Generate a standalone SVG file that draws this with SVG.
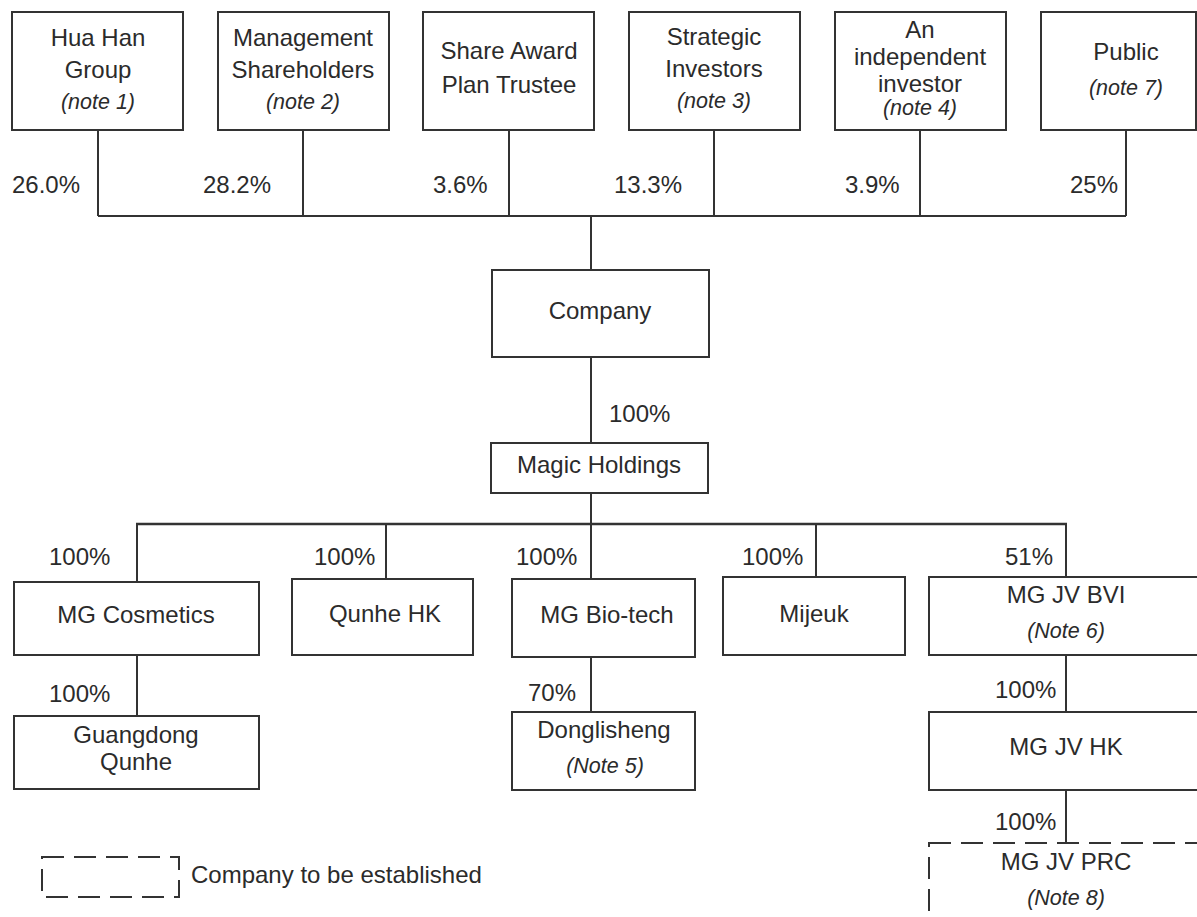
<svg xmlns="http://www.w3.org/2000/svg" width="1197" height="917" viewBox="0 0 1197 917">
<style>
.box{fill:#fff;stroke:#333;stroke-width:2}
.dash{fill:#fff;stroke:#333;stroke-width:2;stroke-dasharray:22 10}
.ln{stroke:#333;stroke-width:2;fill:none}
.t{font-family:"Liberation Sans",Arial,sans-serif;font-size:24px;fill:#2b2b2b;text-anchor:middle}
.n{font-family:"Liberation Sans",Arial,sans-serif;font-size:21.5px;font-style:italic;fill:#2b2b2b;text-anchor:middle}
.p{font-family:"Liberation Sans",Arial,sans-serif;font-size:24px;fill:#2b2b2b}
</style>
<rect width="1197" height="917" fill="#fff"/>
<g id="connectors">
<path class="ln" d="M98 130V216M303 130V216M509 130V216M714 130V216M920 130V216M1126 130V216M98 216H1126M591 216V270"/>
<path class="ln" d="M591 357V443M591 493V524"/>
<path class="ln" style="stroke-width:2.6" d="M136 524H1067"/>
<path class="ln" d="M137 524V582M386 524V579M591 524V579M816 524V577M1066 524V577"/>
<path class="ln" d="M137 655V716M591 657V712M1066 655V712M1066 790V843"/>
<text class="p" x="12" y="193">26.0%</text>
<text class="p" x="203" y="193">28.2%</text>
<text class="p" x="433" y="193">3.6%</text>
<text class="p" x="614" y="193">13.3%</text>
<text class="p" x="845" y="193">3.9%</text>
<text class="p" x="1070" y="193">25%</text>
<text class="p" x="609" y="422">100%</text>
<text class="p" x="49" y="565">100%</text>
<text class="p" x="314" y="565">100%</text>
<text class="p" x="516" y="565">100%</text>
<text class="p" x="742" y="565">100%</text>
<text class="p" x="1005" y="565">51%</text>
<text class="p" x="49" y="702">100%</text>
<text class="p" x="528" y="701">70%</text>
<text class="p" x="995" y="698">100%</text>
<text class="p" x="995" y="830">100%</text>
</g>
<g id="hua-han">
<rect class="box" x="12" y="12" width="171" height="118"/>
<text class="t" x="98" y="46">Hua Han</text>
<text class="t" x="98" y="78">Group</text>
<text class="n" x="98" y="109">(note 1)</text>
</g>
<g id="management">
<rect class="box" x="218" y="12" width="171" height="118"/>
<text class="t" x="303" y="46">Management</text>
<text class="t" x="303" y="78">Shareholders</text>
<text class="n" x="303" y="109">(note 2)</text>
</g>
<g id="share-award">
<rect class="box" x="423" y="12" width="171" height="118"/>
<text class="t" x="509" y="59">Share Award</text>
<text class="t" x="509" y="93">Plan Trustee</text>
</g>
<g id="strategic">
<rect class="box" x="629" y="12" width="171" height="118"/>
<text class="t" x="714" y="45">Strategic</text>
<text class="t" x="714" y="77">Investors</text>
<text class="n" x="714" y="108">(note 3)</text>
</g>
<g id="independent">
<rect class="box" x="835" y="12" width="171" height="118"/>
<text class="t" x="920" y="38">An</text>
<text class="t" x="920" y="65">independent</text>
<text class="t" x="920" y="92">investor</text>
<text class="n" x="920" y="115">(note 4)</text>
</g>
<g id="public">
<rect class="box" x="1041" y="12" width="155" height="118"/>
<text class="t" x="1126" y="60">Public</text>
<text class="n" x="1126" y="95">(note 7)</text>
</g>
<g id="company">
<rect class="box" x="492" y="270" width="217" height="87"/>
<text class="t" x="600" y="319">Company</text>
</g>
<g id="magic-holdings">
<rect class="box" x="491" y="443" width="217" height="50"/>
<text class="t" x="599" y="473">Magic Holdings</text>
</g>
<g id="mg-cosmetics">
<rect class="box" x="14" y="582" width="245" height="73"/>
<text class="t" x="136" y="623">MG Cosmetics</text>
</g>
<g id="qunhe-hk">
<rect class="box" x="292" y="579" width="181" height="76"/>
<text class="t" x="385" y="622">Qunhe HK</text>
</g>
<g id="mg-bio-tech">
<rect class="box" x="512" y="579" width="183" height="78"/>
<text class="t" x="607" y="623">MG Bio-tech</text>
</g>
<g id="mijeuk">
<rect class="box" x="723" y="577" width="182" height="78"/>
<text class="t" x="814" y="622">Mijeuk</text>
</g>
<g id="mg-jv-bvi">
<rect class="box" x="929" y="577" width="280" height="78"/>
<text class="t" x="1066" y="603">MG JV BVI</text>
<text class="n" x="1066" y="638">(Note 6)</text>
</g>
<g id="guangdong-qunhe">
<rect class="box" x="14" y="716" width="245" height="73"/>
<text class="t" x="136" y="743">Guangdong</text>
<text class="t" x="136" y="770">Qunhe</text>
</g>
<g id="donglisheng">
<rect class="box" x="512" y="712" width="183" height="78"/>
<text class="t" x="604" y="738">Donglisheng</text>
<text class="n" x="605" y="773">(Note 5)</text>
</g>
<g id="mg-jv-hk">
<rect class="box" x="929" y="712" width="280" height="78"/>
<text class="t" x="1066" y="755">MG JV HK</text>
</g>
<g id="mg-jv-prc">
<rect class="dash" x="929" y="843" width="280" height="90"/>
<text class="t" x="1066" y="870">MG JV PRC</text>
<text class="n" x="1066" y="905">(Note 8)</text>
</g>
<g id="legend">
<rect class="dash" x="42" y="857" width="137" height="40" fill="none"/>
<text class="p" x="191" y="883">Company to be established</text>
</g>
</svg>
